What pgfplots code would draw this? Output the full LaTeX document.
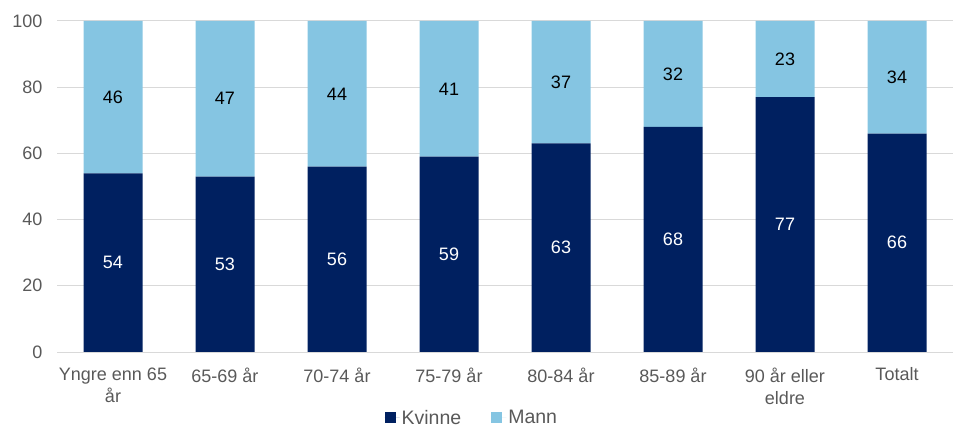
\documentclass[border=0pt]{standalone}
\usepackage{pgfplots}
\usepackage{pgfplotstable}
\pgfplotsset{compat=1.18}
\usepackage{fontspec}
\setmainfont{Liberation Sans}
\definecolor{kvinne}{HTML}{002060}
\definecolor{mann}{HTML}{85C5E2}
\definecolor{txtgray}{HTML}{595959}
\definecolor{gridgray}{HTML}{D9D9D9}

\pgfplotstableread{
x kvinne mann
0 54 46
1 53 47
2 56 44
3 59 41
4 63 37
5 68 32
6 77 23
7 66 34
}\data

\pgfplotsset{
  base/.style={
    at={(57bp,85bp)}, anchor=south west,
    scale only axis, width=896bp, height=331bp,
    xmin=-0.5, xmax=7.5, ymin=0, ymax=100,
    font=\fontsize{18bp}{21bp}\selectfont,
    /pgf/number format/assume math mode=true,
  }
}

\begin{document}
\begin{tikzpicture}
\useasboundingbox (0,0) rectangle (974bp,437bp);
\begin{axis}[base,
    ybar stacked, bar width=59bp,
    axis line style={draw=none}, tick style={draw=none},
    ymajorgrids, grid style={gridgray, line width=1bp},
    ytick={0,20,...,100},
    xtick=data,
    xticklabels={{Yngre enn 65\\år},{65-69 år},{70-74 år},{75-79 år},{80-84 år},{85-89 år},{90 år eller\\eldre},{Totalt}},
    xticklabel style={align=center, text=txtgray, yshift=-12bp,
      font=\fontsize{18bp}{22bp}\selectfont},
    yticklabel style={text=txtgray, xshift=-11bp},
    legend columns=2,
    legend style={at={(0.463,-0.199)}, anchor=center, draw=none, fill=none,
      text=txtgray, font=\fontsize{19.5bp}{22bp}\selectfont,
      /tikz/every even column/.append style={column sep=28bp}},
    legend image code/.code={\fill[#1] (0bp,-5.5bp) rectangle (11bp,5.5bp);
      \path (0bp,0bp) -- (15bp,0bp);},
]
\addplot[fill=kvinne, draw=none] table[x=x, y=kvinne] {\data};
\addplot[fill=mann, draw=none] table[x=x, y=mann] {\data};
\legend{Kvinne, Mann}
\end{axis}
\begin{axis}[base, hide axis,
    nodes near coords={\pgfmathprintnumber{\pgfplotspointmeta}},
    every node near coord/.append style={anchor=center,
      font=\fontsize{18bp}{21bp}\selectfont},
]
\addplot[draw=none, mark=none, point meta=explicit,
    every node near coord/.append style={text=white}]
    table[x=x, y expr=\thisrow{kvinne}/2, meta=kvinne] {\data};
\addplot[draw=none, mark=none, point meta=explicit,
    every node near coord/.append style={text=black}]
    table[x=x, y expr=\thisrow{kvinne}+\thisrow{mann}/2, meta=mann] {\data};
\end{axis}
\end{tikzpicture}
\end{document}
